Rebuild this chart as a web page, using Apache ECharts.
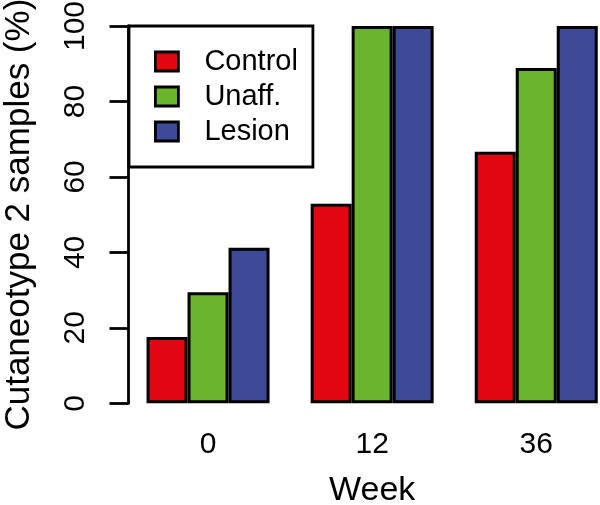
<!DOCTYPE html>
<html>
<head>
<meta charset="utf-8">
<script src="https://cdn.jsdelivr.net/npm/echarts@6/dist/echarts.min.js"></script>
<style>html,body{margin:0;padding:0;background:#fff;}#c{width:600px;height:505px;}</style>
</head>
<body>
<div id="c"></div>
<script>
const weeks = ['0', '12', '36'];
const seriesNames = ['Control', 'Unaff.', 'Lesion'];
const control = [17.6, 52.9, 66.7];
const unaff = [29.4, 100, 88.9];
const lesion = [41.2, 100, 100];
const yTicks = [0, 20, 40, 60, 80, 100];

const colors = ['#E2070F', '#6BB42D', '#3D4A98'];
const FONT = 'Liberation Sans, Arial, Helvetica, sans-serif';
const chart = echarts.init(document.getElementById('c'), null, {renderer: 'canvas'});
const values = [control, unaff, lesion];
const option = {
  animation: false,
  backgroundColor: '#fff',
  textStyle: {fontFamily: FONT, color: '#000'},
  grid: {left: 126, top: 26, width: 492.3, height: 377.3, containLabel: false, outerBoundsMode: 'none'},
  legend: {
    data: seriesNames,
    orient: 'vertical',
    left: 129, top: 26,
    icon: 'rect',
    itemWidth: 23, itemHeight: 19, itemGap: 6,
    padding: [21, 15, 21, 25],
    borderColor: '#000', borderWidth: 2.8, backgroundColor: '#fff',
    itemStyle: {borderColor: '#000', borderWidth: 2.8},
    textStyle: {fontFamily: FONT, fontSize: 29, color: '#000', padding: [0, 0, 0, 21]}
  },
  xAxis: {
    type: 'category',
    data: weeks,
    name: 'Week', nameLocation: 'middle', nameGap: 70,
    nameTextStyle: {fontFamily: FONT, fontSize: 34, color: '#000'},
    axisLine: {show: false}, axisTick: {show: false},
    axisLabel: {fontFamily: FONT, fontSize: 30, color: '#000', margin: 26}
  },
  yAxis: {
    type: 'value', min: yTicks[0], max: yTicks[yTicks.length - 1], interval: 20,
    offset: -2.5,
    name: 'Cutaneotype 2 samples (%)', nameLocation: 'middle', nameGap: 92, nameRotate: 90,
    nameTextStyle: {fontFamily: FONT, fontSize: 35, color: '#000'},
    axisLine: {show: true, lineStyle: {color: '#000', width: 2.8}},
    axisTick: {show: true, length: 19, lineStyle: {color: '#000', width: 2.8}},
    axisLabel: {rotate: 90, fontFamily: FONT, fontSize: 30, color: '#000', margin: 38},
    splitLine: {show: false}
  },
  series: seriesNames.map((n, i) => ({
    name: n, type: 'bar', data: values[i],
    barWidth: 41, barGap: '0%',
    itemStyle: {color: colors[i], borderColor: '#000', borderWidth: 3}
  }))
};
chart.setOption(option);
</script>
</body>
</html>
